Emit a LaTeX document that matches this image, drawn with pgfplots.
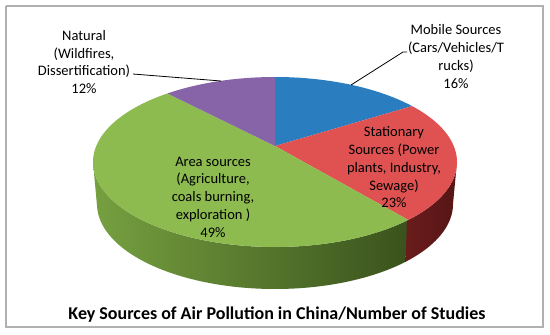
\documentclass[border=0pt]{standalone}
\usepackage{pgfplots}
\pgfplotsset{compat=1.18}
\usepackage{fontspec}
\setmainfont{Carlito}
\definecolor{cblue}{HTML}{2A7EC0}
\definecolor{cred}{HTML}{E05252}
\definecolor{cgreen}{HTML}{8DBB50}
\definecolor{cpurple}{HTML}{8763A8}
\definecolor{credside}{HTML}{6A1C1C}
\definecolor{credside2}{HTML}{561515}
\definecolor{cgside1}{HTML}{76A040}
\definecolor{cgside2}{HTML}{7EA848}
\definecolor{cgside3}{HTML}{3A521C}
\definecolor{cframe}{HTML}{B0B0B0}
\begin{document}
\begin{tikzpicture}
% data (percent of studies)
\def\pMobile{16}\def\pStat{23}\def\pArea{49}\def\pNat{12}
% geometry of the 3D view (pixels)
\pgfmathsetmacro\dd{0.188}
\pgfmathsetmacro\kk{sqrt(1-\dd*\dd)}
\pgfmathsetmacro\aB{90-3.6*\pMobile}
\pgfmathsetmacro\aC{\aB-3.6*\pStat}
\pgfmathsetmacro\aD{\aC-3.6*\pArea}
\pgfmathsetmacro\tB{atan2(sin(\aB)+\dd, \kk*cos(\aB))}
\pgfmathsetmacro\tC{atan2(sin(\aC)+\dd, \kk*cos(\aC))}
\pgfmathsetmacro\tD{atan2(sin(\aD)+\dd, \kk*cos(\aD))}
\pgfmathsetmacro\tDm{\tD-360}
\pgfmathsetmacro\tCx{\tC-0.6}
\begin{axis}[xmin=0,xmax=550,ymin=0,ymax=334,y dir=reverse,
  width=550bp,height=334bp,scale only axis,hide axis,clip=false]
% background and frame
\addplot[fill=white,draw=none] coordinates {(0,0) (550,0) (550,334) (0,334) (0,0)};
\addplot[draw=cframe,line width=1.3bp] coordinates {(6,6) (543,6) (543,327) (6,327) (6,6)};
% side faces
\addplot[draw=none,left color=cgside1,middle color=cgside2,right color=cgside3,domain=0:2,samples=161,variable=\s]
  ({\s<=1 ? 275+182*cos(\tC+(-180-\tC)*\s) : 275+178*cos(-180+(\tC+180)*(\s-1))},
   {\s<=1 ? 162-85*sin(\tC+(-180-\tC)*\s) : 204-85*sin(-180+(\tC+180)*(\s-1))});
\addplot[draw=none,left color=credside,right color=credside2,domain=0:2,samples=121,variable=\s]
  ({\s<=1 ? 275+182*cos(0+(\tCx-0)*\s) : 275+178*cos(\tCx+(0-\tCx)*(\s-1))},
   {\s<=1 ? 162-85*sin(0+(\tCx-0)*\s) : 204-85*sin(\tCx+(0-\tCx)*(\s-1))});
% top faces
\addplot[fill=cblue,draw=none,domain=\tB:90,samples=60,variable=\t]
  ({275+182*cos(\t)},{162-85*sin(\t)}) -- (axis cs:275,146) -- cycle;
\addplot[fill=cred,draw=none,domain=\tC:\tB,samples=80,variable=\t]
  ({275+182*cos(\t)},{162-85*sin(\t)}) -- (axis cs:275,146) -- cycle;
\addplot[fill=cgreen,draw=none,domain=\tDm:\tC,samples=160,variable=\t]
  ({275+182*cos(\t)},{162-85*sin(\t)}) -- (axis cs:275,146) -- cycle;
\addplot[fill=cpurple,draw=none,domain=90:\tD,samples=40,variable=\t]
  ({275+182*cos(\t)},{162-85*sin(\t)}) -- (axis cs:275,146) -- cycle;
% leader lines
\addplot[black,line width=0.8bp] coordinates {(133,74) (221,81)};
\addplot[black,line width=0.8bp] coordinates {(351,85) (403,52) (407,52)};
% labels
\tikzset{lab/.style={align=center,font=\fontsize{14.5bp}{17.75bp}\selectfont,inner sep=0pt}}
\node[lab] at (axis cs:84,62) {Natural\\(Wildfires,\\Dissertification)\\12\%};
\node[lab] at (axis cs:456,56.5) {Mobile Sources\\(Cars/Vehicles/T\\rucks)\\16\%};
\node[lab] at (axis cs:394,167.5) {Stationary\\Sources (Power\\plants, Industry,\\Sewage)\\23\%};
\node[lab] at (axis cs:213,197) {Area sources\\(Agriculture,\\coals burning,\\exploration )\\49\%};
\node[font=\bfseries\fontsize{18bp}{21bp}\selectfont,anchor=base,inner sep=0pt] at (axis cs:277,319) {Key Sources of Air Pollution in China/Number of Studies};
\end{axis}
\end{tikzpicture}
\end{document}
